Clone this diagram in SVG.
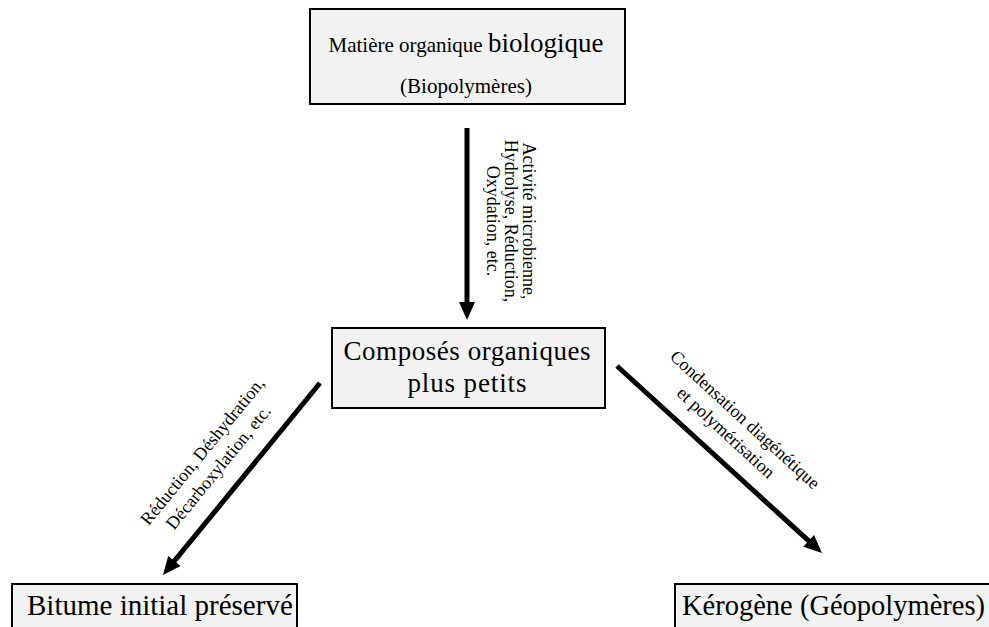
<svg xmlns="http://www.w3.org/2000/svg" width="989" height="627" viewBox="0 0 989 627">
  <style>
    .box { fill: #f2f2f2; stroke: #000; stroke-width: 2; }
    .txt { font-family: "Liberation Serif", "Times New Roman", serif; fill: #000; }
    .lbl { font-family: "Liberation Serif", "Times New Roman", serif; fill: #000; font-size: 18px; text-anchor: middle; }
    .arrow { stroke: #000; stroke-width: 5; fill: none; marker-end: url(#head); }
  </style>
  <defs>
    <marker id="head" markerUnits="userSpaceOnUse" markerWidth="18" markerHeight="16" refX="6" refY="8" orient="auto" overflow="visible">
      <path d="M0,0 L18,8 L0,16 z" fill="#000"/>
    </marker>
  </defs>
  <rect width="989" height="627" fill="#fff"/>

  <!-- Nodes -->
  <g id="matiere-organique">
    <rect class="box" x="310" y="9" width="315" height="95"/>
    <text class="txt" x="466" y="52" text-anchor="middle"><tspan font-size="21">Matière organique </tspan><tspan font-size="27">biologique</tspan></text>
    <text class="txt" x="466" y="93" font-size="21" text-anchor="middle">(Biopolymères)</text>
  </g>

  <g id="composes-organiques">
    <rect class="box" x="332" y="328" width="273" height="80"/>
    <text class="txt" x="467" y="360" font-size="27" text-anchor="middle" textLength="247" lengthAdjust="spacing">Composés organiques</text>
    <text class="txt" x="467" y="392" font-size="27" text-anchor="middle" textLength="119" lengthAdjust="spacing">plus petits</text>
  </g>

  <g id="bitume">
    <rect class="box" x="12" y="584" width="285" height="60"/>
    <text class="txt" x="27" y="615" font-size="29">Bitume initial préservé</text>
  </g>

  <g id="kerogene">
    <rect class="box" x="675" y="584" width="330" height="60"/>
    <text class="txt" x="682" y="615" font-size="28.5">Kérogène (Géopolymères)</text>
  </g>

  <!-- Connectors with their labels -->
  <g id="connectors">
    <line class="arrow" x1="467" y1="128" x2="467" y2="308"/>
    <line class="arrow" x1="320" y1="383" x2="170.6" y2="565.7"/>
    <line class="arrow" x1="617" y1="366" x2="813.1" y2="544.9"/>

    <g transform="translate(523,221) rotate(90)">
      <text class="lbl" x="0" y="0">Activité microbienne,</text>
      <text class="lbl" x="0" y="18">Hydrolyse, Réduction,</text>
      <text class="lbl" x="0" y="36">Oxydation, etc.</text>
    </g>

    <text class="lbl" transform="translate(207,455) rotate(-50.7)">Réduction, Déshydration,</text>
    <text class="lbl" transform="translate(223,471) rotate(-50.7)">Décarboxylation, etc.</text>

    <text class="lbl" font-size="19" transform="translate(741,424) rotate(42.5)">Condensation diagénétique</text>
    <text class="lbl" font-size="19" transform="translate(722,437) rotate(42.5)">et polymérisation</text>
  </g>
</svg>
